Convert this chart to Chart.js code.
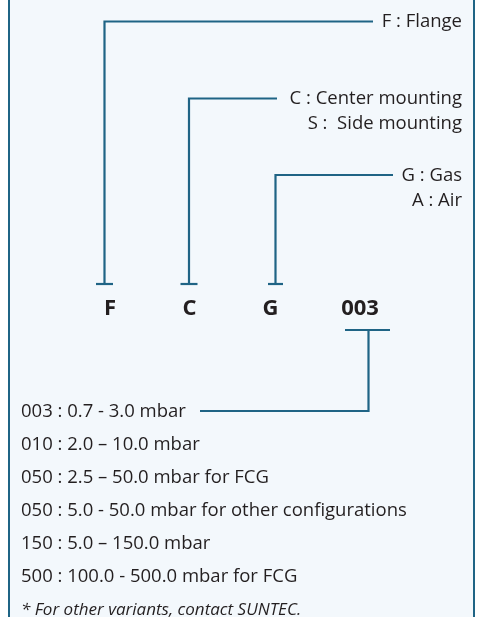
<!DOCTYPE html>
<html lang="en">
<head>
  <meta charset="UTF-8">
  <script src="https://cdn.jsdelivr.net/npm/chart.js"></script>
  <title>Type code</title>
  <style>
    html, body{margin: 0; padding: 0; background: #fff;}
    #wrap{width: 478px; height: 617px;}
  </style>
</head>
<body>
  <div id="wrap">
    <canvas id="myChart"></canvas>
  </div>
  <script>
    // code parts shown in the middle row
    const codeLabels = ['F', 'C', 'G', '003'];
    const codeCenters = [110, 189.5, 270.5, 360];

    // leader lines: stem x, turning y, end of the horizontal arm
    const stemX = [104.5, 189, 275.5, 368.5];
    const turnY = [21.5, 98.5, 175, 411];
    const armEndX = [373, 277, 393, 200];
    const stemTopY = [284, 284, 284, 330];
    const capHalf = [8.5, 8.5, 7.5, 22.5];

    // notes on the right
    const noteLines = [
      ['F : Flange'],
      ['C : Center mounting', 'S :  Side mounting'],
      ['G : Gas', 'A : Air']
    ];
    const noteBaseY = [26.5, 104, 181];

    // pressure ranges on the left
    const rangeLabels = [
      '003 : 0.7 - 3.0 mbar',
      '010 : 2.0 \u2013 10.0 mbar',
      '050 : 2.5 \u2013 50.0 mbar for FCG',
      '050 : 5.0 - 50.0 mbar for other configurations',
      '150 : 5.0 \u2013 150.0 mbar',
      '500 : 100.0 - 500.0 mbar for FCG'
    ];
    const footNote = '* For other variants, contact SUNTEC.';

    const lineColor = '#1f6485';
    const textColor = '#231f20';
    const fontName = '"Open Sans", sans-serif';

    let datasets = [];
    for (let i = 0; i < codeLabels.length; i++) {
      let path;
      if (i < 3) {
        path = [{x: armEndX[i], y: turnY[i]}, {x: stemX[i], y: turnY[i]}, {x: stemX[i], y: stemTopY[i]}];
      } else {
        path = [{x: stemX[i], y: stemTopY[i]}, {x: stemX[i], y: turnY[i]}, {x: armEndX[i], y: turnY[i]}];
      }
      datasets.push({data: path, borderColor: lineColor, borderWidth: 2.2, pointRadius: 0, showLine: true, borderJoinStyle: 'miter', borderCapStyle: 'butt'});
      let cx = (i < 3) ? stemX[i] : 367.5;
      datasets.push({data: [{x: cx - capHalf[i], y: stemTopY[i]}, {x: cx + capHalf[i], y: stemTopY[i]}],
        borderColor: lineColor, borderWidth: 2.2, pointRadius: 0, showLine: true, borderCapStyle: 'butt'});
    }

    // frame + background
    const framePlugin = {
      id: 'frame',
      beforeDraw(chart) {
        const c = chart.ctx;
        c.save();
        c.fillStyle = '#ffffff';
        c.fillRect(0, 0, chart.width, chart.height);
        c.fillStyle = '#f3f8fc';
        c.fillRect(9, 0, 465, chart.height);
        c.strokeStyle = lineColor;
        c.lineWidth = 2;
        c.beginPath();
        c.moveTo(9, 0); c.lineTo(9, chart.height);
        c.moveTo(474, 0); c.lineTo(474, chart.height);
        c.stroke();
        c.restore();
      }
    };

    // all texts
    const textPlugin = {
      id: 'texts',
      afterDatasetsDraw(chart) {
        const c = chart.ctx;
        const xs = chart.scales.x, ys = chart.scales.y;
        c.save();
        c.fillStyle = textColor;
        c.textBaseline = 'alphabetic';

        c.font = 'bold 22px ' + fontName;
        c.textAlign = 'center';
        codeLabels.forEach(function(t, i){
          c.fillText(t, xs.getPixelForValue(codeCenters[i]), ys.getPixelForValue(315));
        });

        c.font = '18.5px ' + fontName;
        c.textAlign = 'right';
        noteLines.forEach(function(lines, i){
          lines.forEach(function(t, j){
            c.fillText(t, xs.getPixelForValue(462), ys.getPixelForValue(noteBaseY[i] + j * 25));
          });
        });

        c.textAlign = 'left';
        rangeLabels.forEach(function(t, i){
          c.fillText(t, xs.getPixelForValue(21), ys.getPixelForValue(417 + i * 33));
        });
        c.font = 'italic 17px ' + fontName;
        c.fillText(footNote, xs.getPixelForValue(21), ys.getPixelForValue(615));
        c.restore();
      }
    };

    const ctx = document.getElementById('myChart');
    new Chart(ctx, {
      type: 'scatter',
      data: {datasets: datasets},
      options: {
        responsive: true,
        maintainAspectRatio: false,
        animation: false,
        layout: {padding: 0},
        plugins: {legend: {display: false}, tooltip: {enabled: false}},
        scales: {
          x: {type: 'linear', min: 0, max: 478, display: false},
          y: {type: 'linear', min: 0, max: 617, reverse: true, display: false}
        }
      },
      plugins: [framePlugin, textPlugin]
    });
  </script>
</body>
</html>
